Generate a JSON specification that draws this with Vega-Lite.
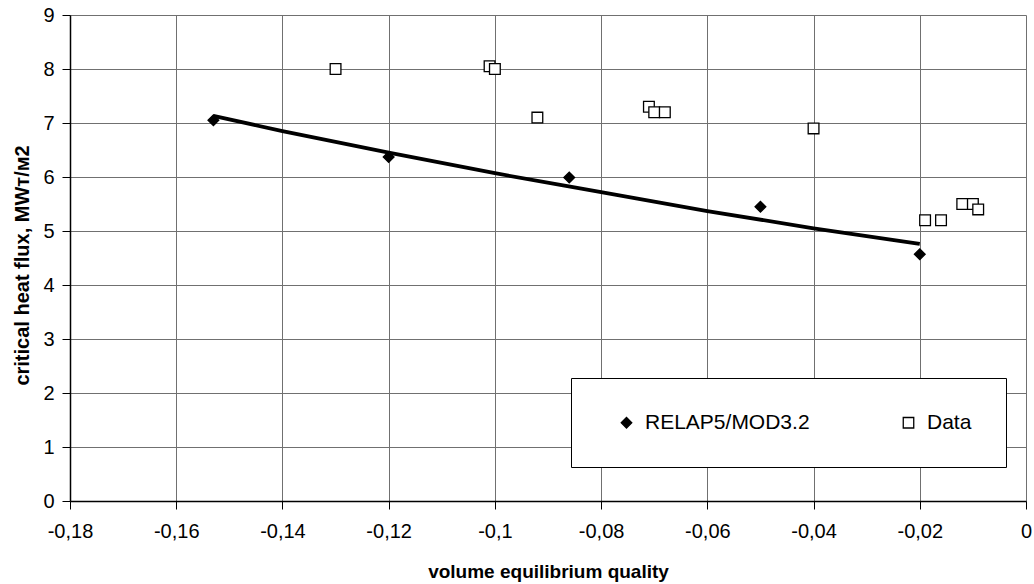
{
  "$schema": "https://vega.github.io/schema/vega-lite/v6.json",
  "width": 956,
  "height": 486,
  "autosize": {"type": "none"},
  "padding": {"left": 70, "top": 15, "right": 8, "bottom": 83},
  "background": "white",
  "config": {
    "view": {"stroke": null},
    "font": "Liberation Sans",
    "legend": {
      "orient": "none",
      "legendX": 501,
      "legendY": 363,
      "direction": "horizontal",
      "columns": 2,
      "columnPadding": 88,
      "padding": 34,
      "fillColor": "white",
      "strokeColor": "black",
      "labelFontSize": 21,
      "labelColor": "black",
      "labelOffset": 8,
      "labelLimit": 400,
      "symbolSize": 110,
      "symbolStrokeWidth": 1.3,
      "symbolOpacity": 1,
      "titleOrient": "left",
      "titlePadding": 11,
      "titleFontSize": 21
    }
  },
  "data": {
    "values": [
      {"series": "RELAP5/MOD3.2", "x": -0.153, "y": 7.05},
      {"series": "RELAP5/MOD3.2", "x": -0.12, "y": 6.37},
      {"series": "RELAP5/MOD3.2", "x": -0.086, "y": 5.99},
      {"series": "RELAP5/MOD3.2", "x": -0.05, "y": 5.45},
      {"series": "RELAP5/MOD3.2", "x": -0.02, "y": 4.57},
      {"series": "Data", "x": -0.13, "y": 8.0},
      {"series": "Data", "x": -0.101, "y": 8.05},
      {"series": "Data", "x": -0.1, "y": 8.0},
      {"series": "Data", "x": -0.092, "y": 7.1},
      {"series": "Data", "x": -0.071, "y": 7.3},
      {"series": "Data", "x": -0.07, "y": 7.2},
      {"series": "Data", "x": -0.068, "y": 7.2},
      {"series": "Data", "x": -0.04, "y": 6.9},
      {"series": "Data", "x": -0.019, "y": 5.2},
      {"series": "Data", "x": -0.016, "y": 5.2},
      {"series": "Data", "x": -0.012, "y": 5.5},
      {"series": "Data", "x": -0.01, "y": 5.5},
      {"series": "Data", "x": -0.009, "y": 5.4},
      {"series": "Trend", "x": -0.153, "y": 7.13},
      {"series": "Trend", "x": -0.14, "y": 6.85},
      {"series": "Trend", "x": -0.12, "y": 6.45},
      {"series": "Trend", "x": -0.1, "y": 6.07},
      {"series": "Trend", "x": -0.08, "y": 5.72},
      {"series": "Trend", "x": -0.06, "y": 5.37},
      {"series": "Trend", "x": -0.04, "y": 5.05},
      {"series": "Trend", "x": -0.02, "y": 4.76}
    ]
  },
  "encoding": {
    "x": {
      "field": "x",
      "type": "quantitative",
      "scale": {"domain": [-0.18, 0], "nice": false, "zero": false},
      "axis": {
        "values": [-0.18, -0.16, -0.14, -0.12, -0.1, -0.08, -0.06, -0.04, -0.02, 0],
        "labelExpr": "(datum.value < 0 ? '-' : '') + replace(format(abs(datum.value), '.2~f'), '.', ',')",
        "grid": true,
        "gridColor": "#707070",
        "gridWidth": 1,
        "gridOpacity": 1,
        "domainColor": "black",
        "domainWidth": 1.5,
        "tickColor": "black",
        "tickSize": 8,
        "labelFontSize": 20,
        "labelColor": "black",
        "labelPadding": 12,
        "labelFlush": false,
        "title": "volume equilibrium quality",
        "titleFontSize": 19,
        "titleFontWeight": "bold",
        "titleColor": "black",
        "titleBaseline": "alphabetic",
        "titleY": 76
      }
    },
    "y": {
      "field": "y",
      "type": "quantitative",
      "scale": {"domain": [0, 9], "nice": false},
      "axis": {
        "values": [0, 1, 2, 3, 4, 5, 6, 7, 8, 9],
        "grid": true,
        "gridColor": "#707070",
        "gridWidth": 1,
        "gridOpacity": 1,
        "domainColor": "black",
        "domainWidth": 1.5,
        "tickColor": "black",
        "tickSize": 8,
        "labelFontSize": 20,
        "labelColor": "black",
        "labelPadding": 8,
        "title": "critical heat flux, MWт/м2",
        "titleFontSize": 20,
        "titleFontWeight": "bold",
        "titleColor": "black",
        "titleBaseline": "middle",
        "titleX": -48,
        "titleY": 250
      }
    }
  },
  "layer": [
    {
      "transform": [{"filter": "datum.series === 'Trend'"}],
      "mark": {"type": "line", "color": "black", "strokeWidth": 3.8, "interpolate": "monotone"}
    },
    {
      "transform": [{"filter": "datum.series !== 'Trend'"}],
      "mark": {"type": "point", "strokeWidth": 1.3, "opacity": 1, "fillOpacity": 1, "strokeOpacity": 1, "size": 115},
      "encoding": {
        "shape": {
          "field": "series",
          "type": "nominal",
          "title": " ",
          "scale": {"domain": ["RELAP5/MOD3.2", "Data"], "range": ["diamond", "square"]}
        },
        "fill": {
          "field": "series",
          "type": "nominal",
          "title": " ",
          "scale": {"domain": ["RELAP5/MOD3.2", "Data"], "range": ["black", "white"]}
        },
        "stroke": {
          "field": "series",
          "type": "nominal",
          "title": " ",
          "scale": {"domain": ["RELAP5/MOD3.2", "Data"], "range": ["black", "black"]}
        }
      }
    }
  ]
}
